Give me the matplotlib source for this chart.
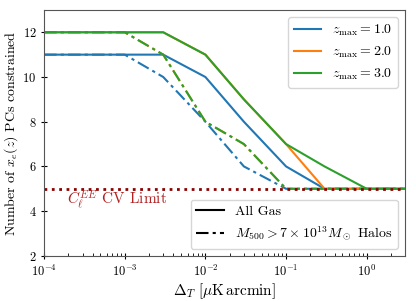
import numpy as np
import matplotlib
matplotlib.use("Agg")
from matplotlib import pyplot as plt
from matplotlib.lines import Line2D

plt.rcParams['font.family'] = 'serif'
plt.rcParams['font.serif'] = ['cmr10', 'DejaVu Serif']
plt.rcParams['mathtext.fontset'] = 'cm'
plt.rcParams['axes.formatter.use_mathtext'] = True

# noise levels (muK arcmin)
delta_t = [1e-4, 1e-3, 3e-3, 1e-2, 3e-2, 1e-1, 3e-1, 1e0, 3e0]

# number of PCs constrained, all gas
gas_z1 = [11, 11, 11, 10, 8, 6, 5, 5, 5]
gas_z2 = [12, 12, 12, 11, 9, 7, 5, 5, 5]
gas_z3 = [12, 12, 12, 11, 9, 7, 6, 5, 5]

# number of PCs constrained, massive halos only
halo_z1 = [11, 11, 10, 8, 6, 5, 5, 5, 5]
halo_z2 = [12, 12, 11, 8, 7, 5, 5, 5, 5]
halo_z3 = [12, 12, 11, 8, 7, 5, 5, 5, 5]

zmax = [1.0, 2.0, 3.0]
cv_limit = 5

fig = plt.figure(figsize=(4.16, 3.01), dpi=100)
ax = fig.add_axes([0.106, 0.150, 0.868, 0.817])

colors = ["#1f77b4", "#ff7f0e", "#2ca02c"]
dd = (0, (6, 2, 1.5, 2))
for g, h, c in zip([gas_z1, gas_z2, gas_z3], [halo_z1, halo_z2, halo_z3], colors):
    ax.plot(delta_t, g, color=c, lw=1.5, ls='-')
    ax.plot(delta_t, h, color=c, lw=1.5, ls=dd)

ax.axhline(cv_limit, color='darkred', ls=':', lw=2)
ax.text(1.9e-4, 4.5, r"$C_\ell^{EE}$ CV Limit", color='firebrick', fontsize=11, va='center')

ax.set_xscale('log')
ax.set_xlim(1e-4, 3)
ax.set_ylim(2, 13)
ax.set_yticks([2, 4, 6, 8, 10, 12])
ax.set_xlabel(r"$\Delta_T\ [\mu{\rm K\,arcmin}]$", fontsize=11, labelpad=2)
ax.set_ylabel(r"Number of $x_e(z)$ PCs constrained", fontsize=10, labelpad=2)
ax.tick_params(labelsize=9)
ax.tick_params(which='minor', direction='in', length=2)
ax.tick_params(which='major', direction='inout', length=4)
for s in ax.spines.values():
    s.set_color('#555555')

h1 = [Line2D([], [], color=c, lw=1.5) for c in colors]
l1 = [r"$z_{\rm max} = %.1f$" % z for z in zmax]
leg1 = ax.legend(h1, l1, loc='upper right', fontsize=10)
ax.add_artist(leg1)

h2 = [Line2D([], [], color='k', lw=1.5, ls='-'), Line2D([], [], color='k', lw=1.5, ls=dd)]
l2 = ["All Gas", r"$M_{500} > 7\times10^{13}M_\odot$ Halos"]
ax.legend(h2, l2, loc='lower right', fontsize=10)

fig.savefig("out.png", dpi=100)
